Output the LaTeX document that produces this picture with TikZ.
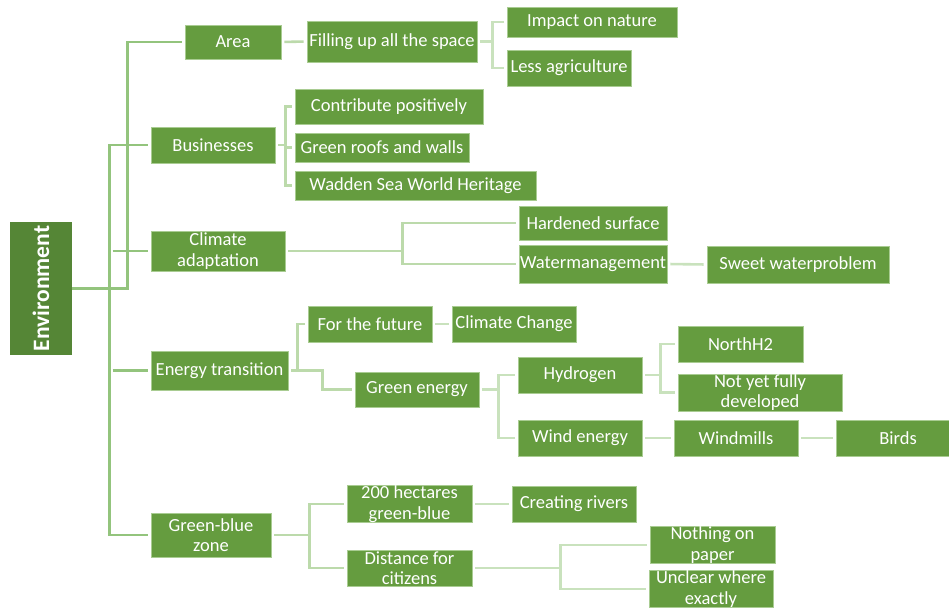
\documentclass[tikz,border=0pt]{standalone}
\usepackage{fontspec}
\setmainfont{Carlito}
\usetikzlibrary{positioning}
\definecolor{boxfill}{HTML}{659C3F}
\definecolor{envfill}{HTML}{558636}
\definecolor{boxedge}{HTML}{A9CC92}
\definecolor{lineA}{HTML}{93C47D}
\definecolor{lineB}{HTML}{BCDAAB}
\definecolor{lineC}{HTML}{C9E2BD}
\tikzset{
  box/.style={draw=boxedge, line width=0.8pt, fill=boxfill, text=white, inner sep=0pt, align=center,
    font=\fontsize{18.5}{20.5}\selectfont},
  envbox/.style={fill=envfill, text=white, inner sep=0pt, rotate=90,
    font=\fontsize{23.5}{26}\selectfont\bfseries},
  conA/.style={draw=lineA, line width=2.6pt, shorten <=3pt, shorten >=3pt},
  conB/.style={draw=lineB, line width=2.6pt, shorten <=3pt, shorten >=3pt},
  conC/.style={draw=lineC, line width=2.6pt, shorten <=3pt, shorten >=3pt},
}
\newcommand{\bx}[6]{\node[box, minimum width=#4pt, minimum height=#5pt] (#1) at (#2,#3) {#6};}
\begin{document}
\begin{tikzpicture}[x=1pt,y=-1pt]
\clip (0,0) rectangle (949,607);
\fill[white] (0,0) rectangle (949,607);
% root
\node[envbox, minimum width=133pt, minimum height=62pt] (env) at (41,288.5) {Environment};
% level 1
\bx{area}{233}{42}{96}{34}{Area}
\bx{bus}{213}{145}{124}{36}{Businesses}
\bx{clim}{218}{251}{134}{40}{Climate\\adaptation}
\bx{energy}{219.5}{370.5}{137}{39}{Energy transition}
\bx{gb}{211}{535}{120}{44}{Green-blue\\zone}
% level 2+
\bx{fill}{392}{41.5}{170}{41}{Filling up all the space}
\bx{impact}{592}{22}{170}{30}{Impact on nature}
\bx{less}{569}{68}{124}{36}{Less agriculture}
\bx{contrib}{389}{106.5}{188}{35}{Contribute positively}
\bx{roofs}{382}{147.5}{174}{29}{Green roofs and walls}
\bx{wadden}{415.5}{185.5}{241}{29}{Wadden Sea World Heritage}
\bx{hard}{593}{223}{148}{34}{Hardened surface}
\bx{water}{593}{264}{148}{38}{Watermanagement}
\bx{sweet}{798}{264.5}{182}{37}{Sweet waterproblem}
\bx{future}{370}{324}{124}{36}{For the future}
\bx{cchange}{514}{324}{124}{36}{Climate Change}
\bx{genergy}{417}{389.5}{124}{35}{Green energy}
\bx{hydro}{580}{375}{124}{36}{Hydrogen}
\bx{wind}{580}{438}{124}{36}{Wind energy}
\bx{north}{740.5}{344}{125}{36}{NorthH2}
\bx{notyet}{760}{392.5}{164}{37}{Not yet fully\\developed}
\bx{windm}{736}{438}{124}{36}{Windmills}
\bx{birds}{898}{438}{124}{36}{Birds}
\bx{hect}{409.5}{504}{125}{36}{200 hectares\\green-blue}
\bx{dist}{409.5}{568}{125}{36}{Distance for\\citizens}
\bx{rivers}{574}{504}{124}{36}{Creating rivers}
\bx{nothing}{712.5}{545}{125}{36}{Nothing on\\paper}
\bx{unclear}{711}{589}{124}{36}{Unclear where\\exactly}
% level 1 connectors
\draw[conA, shorten <=0pt] (env.south) -| ([xshift=-57pt]area.west) -- (area.west);
\draw[conA] (bus.west) -- ([xshift=-41pt]bus.west) |- (gb.west);
\draw[conA] ([xshift=-41pt]bus.west |- clim.west) -- (clim.west);
\draw[conA] ([xshift=-41pt]bus.west |- energy.west) -- (energy.west);
% area branch
\draw[conB] (area.east) -- (fill.west);
\draw[conC] (fill.east) -- ++(15,0) |- (impact.west);
\draw[conC] (fill.east) -- ++(15,0) |- (less.west);
% businesses branch
\draw[conB] (bus.east) -- ++(10,0) |- (contrib.west);
\draw[conB] (bus.east) -- ++(10,0) |- (roofs.west);
\draw[conB] (bus.east) -- ++(10,0) |- (wadden.west);
% climate branch
\draw[conB] (clim.east) -- ++(117,0) |- (hard.west);
\draw[conB] (clim.east) -- ++(117,0) |- (water.west);
\draw[conC] (water.east) -- (sweet.west);
% energy branch
\draw[conB] (energy.east) -- ++(9,0) |- (future.west);
\draw[conB] (energy.east) -- ++(34,0) |- (genergy.west);
\draw[conC] (future.east) -- (cchange.west);
\draw[conC] (genergy.east) -- ++(19,0) |- (hydro.west);
\draw[conC] (genergy.east) -- ++(19,0) |- (wind.west);
\draw[conC] (hydro.east) -- ++(18,0) |- (north.west);
\draw[conC] (hydro.east) -- ++(18,0) |- (notyet.west);
\draw[conC] (wind.east) -- (windm.west);
\draw[conC] (windm.east) -- (birds.west);
% green-blue branch
\draw[conB] (gb.east) -- ++(38,0) |- (hect.west);
\draw[conB] (gb.east) -- ++(38,0) |- (dist.west);
\draw[conC] (hect.east) -- (rivers.west);
\draw[conC] (dist.east) -- ++(88,0) |- (nothing.west);
\draw[conC] (dist.east) -- ++(88,0) |- (unclear.west);
\end{tikzpicture}
\end{document}
